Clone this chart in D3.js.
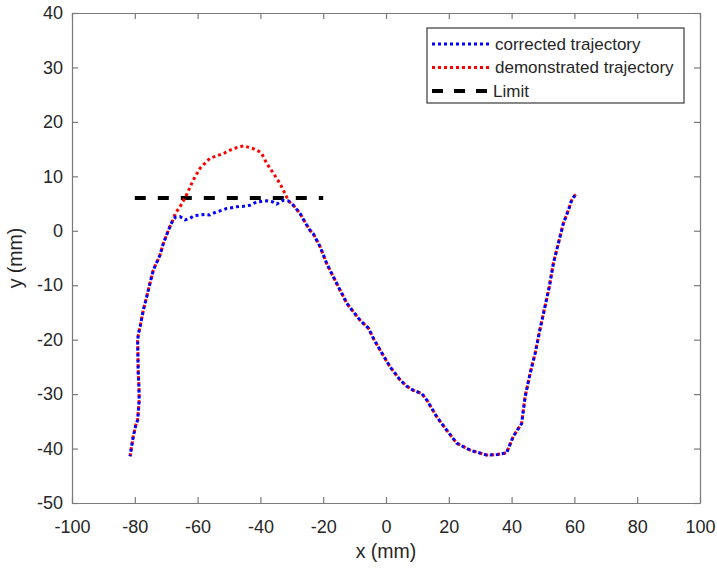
<!DOCTYPE html>
<html>
<head>
<meta charset="utf-8">
<script src="https://cdn.jsdelivr.net/npm/d3@7"></script>
<style>
  body { margin: 0; background: #fff; }
  text { font-family: "Liberation Sans", Arial, sans-serif; }
</style>
</head>
<body>
<div id="chart"></div>
<script>
// trajectory pieces (mm)
const startX = [-81.5, -80.5, -79.6, -79.1, -78.6, -78.7, -78.9, -79.1, -78.8, -78.3, -77.3, -76.2, -75.2, -74.1, -73.0, -72.0, -70.9, -69.3, -68.0];
const startY = [-41.4, -37.8, -35.5, -34.8, -31.1, -28.5, -26.2, -20.1, -18.8, -17.6, -14.6, -12.1, -9.7, -7.2, -5.8, -4.5, -2.3, 0.1, 1.8];

const corrMidX = [-67.0, -65.6, -64.0, -62.4, -61.0, -59.2, -57.5, -56.1, -53.9, -52.0, -50.7, -47.6, -45.4, -43.3, -41.2, -38.0, -36.0, -34.8, -32.7];
const corrMidY = [2.5, 2.6, 2.0, 2.3, 2.8, 2.9, 3.0, 2.9, 3.5, 3.8, 4.1, 4.4, 4.5, 4.7, 5.3, 5.5, 5.3, 4.9, 5.6];

const demoMidX = [-67.0, -65.6, -63.5, -61.4, -59.2, -56.1, -51.8, -48.6, -45.4, -42.3, -40.5, -39.6, -38.0, -35.9, -33.8, -32.2];
const demoMidY = [3.3, 4.4, 6.6, 9.3, 11.5, 13.3, 14.2, 15.1, 15.6, 15.1, 14.6, 14.2, 12.4, 10.6, 8.7, 6.9];

const endX = [-31.1, -29.5, -27.4, -25.3, -24.2, -23.2, -21.0, -18.9, -16.3, -12.5, -10.5, -8.3, -5.6, -3.8, -1.9, 1.3, 4.5, 6.5, 8.7, 11.4, 13.0, 16.2, 19.3, 22.5, 26.8, 32.1, 35.5, 38.4, 40.5, 43.2, 44.3, 45.9, 47.5, 49.0, 50.6, 52.0, 53.3, 54.9, 56.5, 58.1, 59.1, 60.5];
const endY = [5.5, 4.7, 3.2, 1.1, 0.1, -0.5, -2.9, -6.0, -9.0, -13.3, -14.8, -16.4, -17.9, -20.0, -21.9, -25.0, -27.4, -28.5, -29.3, -29.9, -31.1, -34.2, -36.6, -39.0, -40.3, -41.2, -41.1, -40.8, -37.8, -35.4, -30.5, -26.2, -22.5, -18.2, -14.0, -10.3, -6.0, -2.3, 1.4, 3.8, 5.6, 6.8];

const limitX = [-80, -20];
const limitY = 6;

const xTicks = [-100, -80, -60, -40, -20, 0, 20, 40, 60, 80, 100];
const yTicks = [-50, -40, -30, -20, -10, 0, 10, 20, 30, 40];

const legendLabels = ["corrected trajectory", "demonstrated trajectory", "Limit"];

const W = 717, H = 568;
const m = {left: 72, top: 13, right: 17, bottom: 65};
const iw = W - m.left - m.right, ih = H - m.top - m.bottom;

const zip = (xs, ys) => xs.map((x, i) => [x, ys[i]]);
const corrected = zip(startX, startY).concat(zip(corrMidX, corrMidY), zip(endX, endY));
const demonstrated = zip(startX, startY).concat(zip(demoMidX, demoMidY), zip(endX, endY));

const svg = d3.select("#chart").append("svg")
  .attr("width", W)
  .attr("height", H);

const g = svg.append("g").attr("transform", `translate(${m.left},${m.top})`);

const x = d3.scaleLinear().domain([-100, 100]).range([0, iw]);
const y = d3.scaleLinear().domain([-50, 40]).range([ih, 0]);

const axisCol = "#7a7a7a", textCol = "#262626";
const plain = d => String(d); // hyphen minus like matlab

// axes (ticks inward, mirrored on top/right)
function styleAxis(sel) {
  sel.select(".domain").attr("stroke", axisCol).attr("stroke-width", 1.2);
  sel.selectAll(".tick line").attr("stroke", axisCol).attr("stroke-width", 1.2);
  sel.selectAll(".tick text").attr("fill", textCol).style("font-size", "18px");
}

g.append("g").attr("transform", `translate(0,${ih})`)
  .call(d3.axisBottom(x).tickValues(xTicks).tickFormat(plain).tickSizeInner(-6).tickSizeOuter(0).tickPadding(17))
  .call(styleAxis);
g.append("g")
  .call(d3.axisTop(x).tickValues(xTicks).tickSizeInner(-6).tickSizeOuter(0).tickFormat(""))
  .call(styleAxis);
g.append("g")
  .call(d3.axisLeft(y).tickValues(yTicks).tickFormat(plain).tickSizeInner(-6).tickSizeOuter(0).tickPadding(9))
  .call(styleAxis);
g.append("g").attr("transform", `translate(${iw},0)`)
  .call(d3.axisRight(y).tickValues(yTicks).tickSizeInner(-6).tickSizeOuter(0).tickFormat(""))
  .call(styleAxis);

// axis titles
svg.append("text")
  .attr("x", m.left + iw / 2).attr("y", H - 10)
  .attr("text-anchor", "middle").attr("fill", textCol)
  .style("font-size", "19.5px")
  .text("x (mm)");
svg.append("text")
  .attr("transform", `translate(22,${m.top + ih / 2})rotate(-90)`)
  .attr("text-anchor", "middle").attr("fill", textCol)
  .style("font-size", "19.5px")
  .text("y (mm)");

const line = d3.line().x(d => x(d[0])).y(d => y(d[1]));

// Limit line
g.append("line")
  .attr("x1", x(limitX[0])).attr("x2", x(limitX[1]))
  .attr("y1", y(limitY)).attr("y2", y(limitY))
  .attr("stroke", "#000").attr("stroke-width", 4)
  .attr("stroke-dasharray", "11 12");

// trajectories
g.append("path").datum(demonstrated)
  .attr("d", line)
  .attr("fill", "none").attr("stroke", "#ff0000")
  .attr("stroke-width", 3).attr("stroke-dasharray", "3 3");
g.append("path").datum(corrected)
  .attr("d", line)
  .attr("fill", "none").attr("stroke", "#0000ff")
  .attr("stroke-width", 3).attr("stroke-dasharray", "3 3").attr("stroke-dashoffset", 1.5);

// legend
const leg = svg.append("g").attr("transform", "translate(427,28)");
leg.append("rect")
  .attr("width", 257).attr("height", 75)
  .attr("fill", "#fff").attr("stroke", "#3a3a3a").attr("stroke-width", 1.2);

const legStyles = [
  {col: "#0000ff", w: 3, dash: "3 3"},
  {col: "#ff0000", w: 3, dash: "3 3"},
  {col: "#000", w: 4, dash: "11 11"}
];
legendLabels.forEach((lab, i) => {
  const yy = 16 + i * 23.5;
  leg.append("line")
    .attr("x1", 5).attr("x2", 62).attr("y1", yy).attr("y2", yy)
    .attr("stroke", legStyles[i].col).attr("stroke-width", legStyles[i].w)
    .attr("stroke-dasharray", legStyles[i].dash);
  leg.append("text")
    .attr("x", i === 2 ? 66 : 68).attr("y", yy).attr("dy", "0.35em")
    .attr("fill", textCol).style("font-size", "17px")
    .text(lab);
});
</script>
</body>
</html>
